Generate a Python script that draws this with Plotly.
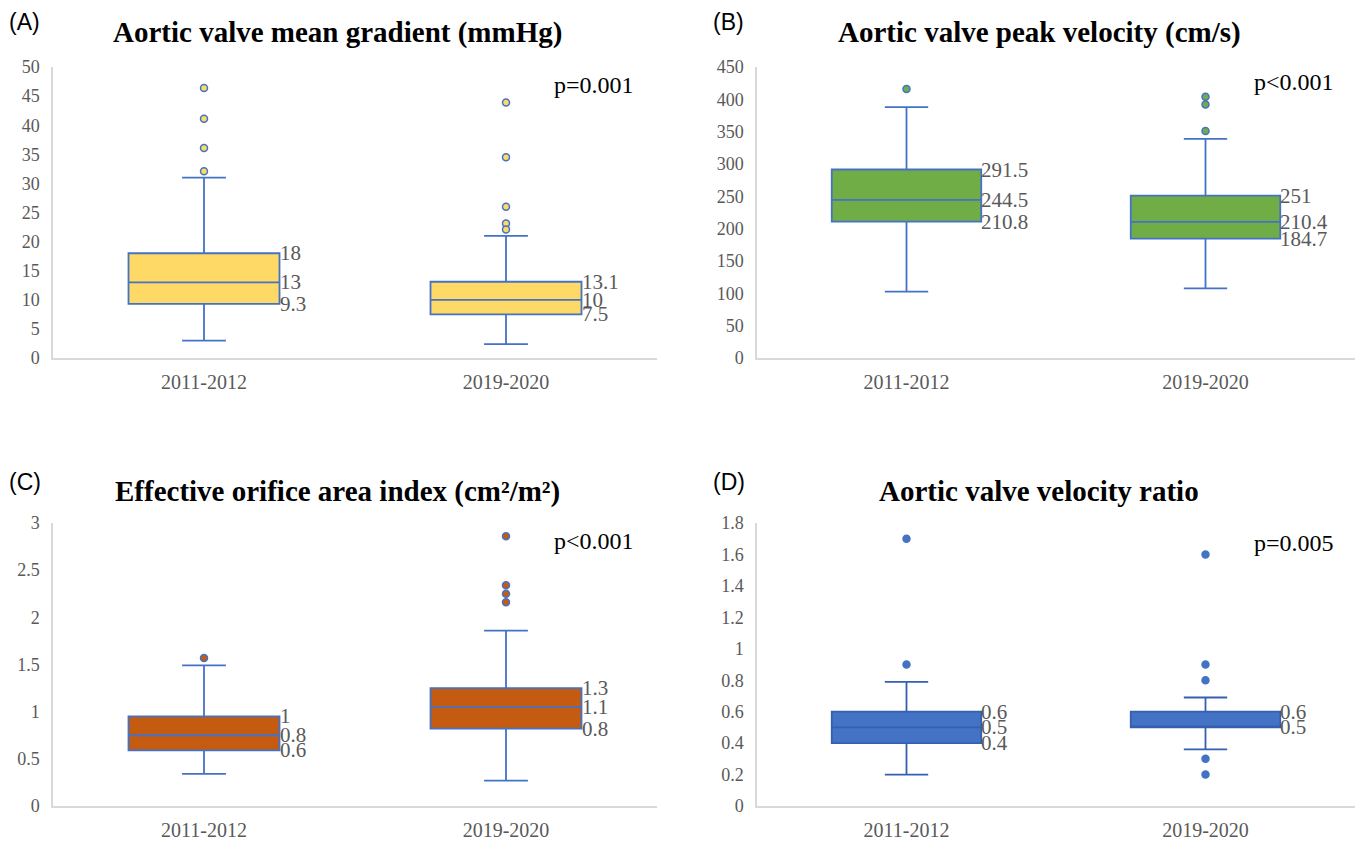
import plotly.graph_objects as go

W, H = 1357, 845

# ---------------- data ----------------
categories = ["2011-2012", "2019-2020"]

# (A) Aortic valve mean gradient (mmHg)
a_q1 = [9.3, 7.5]
a_median = [13, 10]
a_q3 = [18, 13.1]
a_lower = [3, 2.4]
a_upper = [31, 21]
a_out_1 = [46.4, 41.1, 36.1, 32.1]
a_out_2 = [43.9, 34.5, 26.0, 23.1, 22.1]
a_labels_1 = ["18", "13", "9.3"]
a_labels_2 = ["13.1", "10", "7.5"]

# (B) Aortic valve peak velocity (cm/s)
b_q1 = [210.8, 184.7]
b_median = [244.5, 210.4]
b_q3 = [291.5, 251]
b_lower = [102.6, 107.7]
b_upper = [388, 339]
b_out_1 = [416]
b_out_2 = [404, 392, 351]
b_labels_1 = ["291.5", "244.5", "210.8"]
b_labels_2 = ["251", "210.4", "184.7"]

# (C) Effective orifice area index (cm2/m2)
c_q1 = [0.59, 0.82]
c_median = [0.75, 1.05]
c_q3 = [0.95, 1.25]
c_lower = [0.34, 0.27]
c_upper = [1.49, 1.86]
c_out_1 = [1.57]
c_out_2 = [2.86, 2.34, 2.25, 2.16]
c_labels_1 = ["1", "0.8", "0.6"]
c_labels_2 = ["1.3", "1.1", "0.8"]

# (D) Aortic valve velocity ratio
d_q1 = [0.4, 0.5]
d_median = [0.5, 0.5]
d_q3 = [0.6, 0.6]
d_lower = [0.2, 0.36]
d_upper = [0.79, 0.69]
d_out_1 = [1.7, 0.9]
d_out_2 = [1.6, 0.9, 0.8, 0.3, 0.2]
d_labels_1 = ["0.6", "0.5", "0.4"]
d_labels_2 = ["0.6", "0.5"]

p_values = ["p=0.001", "p<0.001", "p<0.001", "p=0.005"]
titles = ["Aortic valve mean gradient (mmHg)",
          "Aortic valve peak velocity (cm/s)",
          "Effective orifice area index (cm²/m²)",
          "Aortic valve velocity ratio"]
panel_tags = ["(A)", "(B)", "(C)", "(D)"]
y_max = [50, 450, 3, 1.8]
y_dtick = [5, 50, 0.5, 0.2]

# ---------------- styling ----------------
SERIF = "Liberation Serif"
SANS = "Liberation Sans"
GRAY = "#595959"
AXIS = "#D9D9D9"
BLUE = "#4472C4"
fills = ["#FFD966", "#70AD47", "#C55A11", "#4472C4"]
box_lines = [BLUE, BLUE, BLUE, "#3560B0"]

def px(x):
    return x / W

def py(y):
    return 1 - y / H

# plot-area pixel bounds: (left, right, top, bottom)
areas = [(53, 657, 67, 358), (757, 1355, 67, 358),
         (53, 657, 523, 806), (757, 1355, 523, 806)]
title_pos = [(337, 33), (1039, 33), (337, 491), (1039, 491)]
tag_pos = [(7, 22), (711, 22), (7, 482), (711, 482)]
p_pos = [(636, 85), (1336, 82), (636, 541), (1336, 543)]

panels = [
    (a_q1, a_median, a_q3, a_lower, a_upper, [a_out_1, a_out_2], [a_labels_1, a_labels_2]),
    (b_q1, b_median, b_q3, b_lower, b_upper, [b_out_1, b_out_2], [b_labels_1, b_labels_2]),
    (c_q1, c_median, c_q3, c_lower, c_upper, [c_out_1, c_out_2], [c_labels_1, c_labels_2]),
    (d_q1, d_median, d_q3, d_lower, d_upper, [d_out_1, d_out_2], [d_labels_1, d_labels_2]),
]

fig = go.Figure()
annotations = []
layout_axes = {}

for i, (q1, med, q3, lo, up, outs, labels) in enumerate(panels):
    n = "" if i == 0 else str(i + 1)
    xa, ya = "x" + n, "y" + n
    left, right, top, bottom = areas[i]

    fig.add_trace(go.Box(
        x=[0, 1], q1=q1, median=med, q3=q3, lowerfence=lo, upperfence=up,
        width=0.5, whiskerwidth=0.29, boxpoints=False,
        fillcolor=fills[i], line=dict(color=box_lines[i], width=1.8),
        xaxis=xa, yaxis=ya, showlegend=False, hoverinfo="skip",
    ))
    for k, ov in enumerate(outs):
        fig.add_trace(go.Scatter(
            x=[k] * len(ov), y=ov, mode="markers",
            marker=dict(size=7, color=fills[i], line=dict(color=BLUE, width=1.5)),
            xaxis=xa, yaxis=ya, showlegend=False, hoverinfo="skip",
        ))
        # value labels to the right of the box
        vals = [q3[k], med[k], q1[k]]
        uniq = []
        for v in vals:
            if v not in uniq:
                uniq.append(v)
        for v, t in zip(uniq, labels[k]):
            annotations.append(dict(
                x=k + 0.25, y=v, xref=xa, yref=ya, text=t, showarrow=False,
                xanchor="left", yanchor="middle", xshift=-2,
                font=dict(family=SERIF, size=21, color=GRAY),
            ))

    layout_axes["xaxis" + n] = dict(
        domain=[px(left), px(right)], anchor=ya, range=[-0.5, 1.5],
        tickvals=[0, 1], ticktext=categories, ticks="", showgrid=False,
        zeroline=False, showline=True, linecolor=AXIS, linewidth=1.5,
        tickfont=dict(family=SERIF, size=20, color=GRAY), ticklabelstandoff=5,
        fixedrange=True, automargin=False,
    )
    layout_axes["yaxis" + n] = dict(
        domain=[py(bottom), py(top)], anchor=xa, range=[0, y_max[i]],
        dtick=y_dtick[i], tick0=0, ticks="", showgrid=False, zeroline=False,
        showline=True, linecolor=AXIS, linewidth=1.5,
        tickfont=dict(family=SERIF, size=18, color=GRAY), ticklabelstandoff=8,
        fixedrange=True, automargin=False,
    )

    tx, ty = title_pos[i]
    annotations.append(dict(
        x=px(tx), y=py(ty), xref="paper", yref="paper", text="<b>" + titles[i] + "</b>",
        showarrow=False, xanchor="center", yanchor="middle",
        font=dict(family=SERIF, size=29, color="black"),
    ))
    gx, gy = tag_pos[i]
    annotations.append(dict(
        x=px(gx), y=py(gy), xref="paper", yref="paper", text=panel_tags[i],
        showarrow=False, xanchor="left", yanchor="middle",
        font=dict(family=SANS, size=23, color="black"),
    ))
    pxx, pyy = p_pos[i]
    annotations.append(dict(
        x=px(pxx), y=py(pyy), xref="paper", yref="paper", text=p_values[i],
        showarrow=False, xanchor="right", yanchor="middle",
        font=dict(family=SERIF, size=24, color="black"),
    ))

fig.update_layout(
    width=W, height=H, margin=dict(l=0, r=0, t=0, b=0, pad=0, autoexpand=False),
    paper_bgcolor="white", plot_bgcolor="white",
    annotations=annotations, showlegend=False, **layout_axes,
)

fig.write_html(
    "out.html",
    config={"displayModeBar": False},
    post_script="document.body.style.margin='0';document.body.style.overflow='hidden';",
)
